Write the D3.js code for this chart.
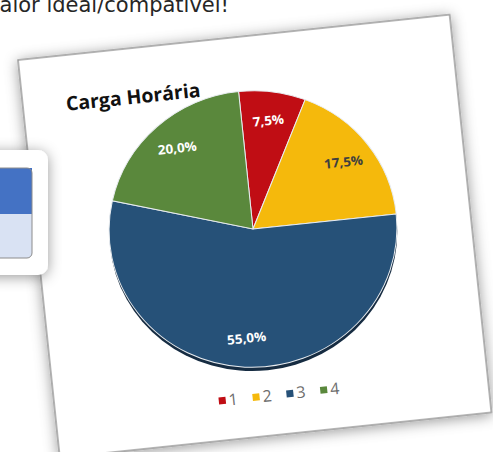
<!DOCTYPE html>
<html>
<head>
<meta charset="utf-8">
<script src="https://cdn.jsdelivr.net/npm/d3@7"></script>
<style>
  html, body { margin: 0; padding: 0; background: #fff; }
  svg { display: block; }
</style>
</head>
<body>
<svg id="chart" width="493" height="452"></svg>
<script>
// chart values
let categories = ["1", "2", "3", "4"];
let values = [7.5, 17.5, 55.0, 20.0];
let sliceColors = ["#c00d14", "#f5b90c", "#265178", "#5a883c"];
let labelColors = ["#ffffff", "#3f3f3f", "#ffffff", "#ffffff"];
let chartTitle = "Carga Horária";
let slideText = "valor ideal/compatível!";

let width = 493,
    height = 452,
    cx = 253,
    cy = 229,
    radius = 144,
    tilt = -6;

let svg = d3.select("#chart");
let defs = svg.append("defs");

let glow = defs.append("filter")
  .attr("id", "glow")
  .attr("x", "-20%").attr("y", "-20%")
  .attr("width", "140%").attr("height", "140%");
glow.append("feDropShadow")
  .attr("dx", 0).attr("dy", 2)
  .attr("stdDeviation", 7)
  .attr("flood-color", "#000")
  .attr("flood-opacity", 0.4);

// slide text, cut off at the top like the photo
svg.append("text")
  .attr("x", 229)
  .attr("y", 12)
  .attr("text-anchor", "end")
  .attr("font-family", "DejaVu Sans, sans-serif")
  .attr("font-size", 21)
  .attr("fill", "#262626")
  .text(slideText);

// the tilted card
svg.append("rect")
  .attr("transform", `translate(18,60) rotate(${tilt})`)
  .attr("width", 434)
  .attr("height", 400)
  .attr("fill", "#fff")
  .attr("stroke", "#9a9a9a")
  .attr("stroke-width", 1.5)
  .attr("filter", "url(#glow)");

let g = svg.append("g")
  .attr("transform", `translate(${cx},${cy}) rotate(${tilt})`);

g.append("text")
  .attr("x", -173)
  .attr("y", -137)
  .attr("font-family", "Open Sans, sans-serif")
  .attr("font-weight", "bold")
  .attr("font-size", 19.5)
  .attr("fill", "#111")
  .text(chartTitle);

let pie = d3.pie().sort(null).value(d => d);
let arcs = pie(values);
let arc = d3.arc().innerRadius(0).outerRadius(radius);
let labelArc = d3.arc().innerRadius(radius * 0.79).outerRadius(radius * 0.79);

let pieG = g.append("g").attr("transform", "scale(1,0.96)");

// dark rim under the pie
pieG.append("circle")
  .attr("cx", 0).attr("cy", 4)
  .attr("r", radius)
  .attr("fill", "#162c42");

pieG.selectAll("path.slice")
  .data(arcs)
  .enter()
  .append("path")
  .attr("class", "slice")
  .attr("d", arc)
  .attr("fill", (d, i) => sliceColors[i])
  .attr("stroke", "#e8ecf0")
  .attr("stroke-width", 1);

let fmt = v => d3.format(".1f")(v).replace(".", ",") + "%";

pieG.selectAll("text.lbl")
  .data(arcs)
  .enter()
  .append("text")
  .attr("class", "lbl")
  .attr("transform", d => `translate(${labelArc.centroid(d)})`)
  .attr("text-anchor", "middle")
  .attr("dy", "0.35em")
  .attr("font-family", "Open Sans, sans-serif")
  .attr("font-weight", "bold")
  .attr("font-size", 13.5)
  .attr("fill", (d, i) => labelColors[i])
  .text(d => fmt(d.data));

// legend
let legendX = d3.scalePoint()
  .domain(categories)
  .range([-40, 62]);

let legend = g.append("g")
  .attr("transform", "translate(0,168)");

let items = legend.selectAll("g.item")
  .data(categories)
  .enter()
  .append("g")
  .attr("class", "item")
  .attr("transform", d => `translate(${legendX(d)},0)`);

items.append("rect")
  .attr("x", -12).attr("y", -4)
  .attr("width", 7).attr("height", 7)
  .attr("fill", (d, i) => sliceColors[i]);

items.append("text")
  .attr("x", -2)
  .attr("y", 5)
  .attr("font-family", "Open Sans, sans-serif")
  .attr("font-size", 16)
  .attr("fill", "#6d6d6d")
  .text(d => d);

// partial panel on the left
let panel = svg.append("g");
panel.append("rect")
  .attr("x", -20).attr("y", 150)
  .attr("width", 68).attr("height", 125)
  .attr("rx", 10)
  .attr("fill", "#fff")
  .attr("filter", "url(#glow)");
panel.append("rect")
  .attr("x", -10).attr("y", 168)
  .attr("width", 42).attr("height", 90)
  .attr("rx", 5)
  .attr("fill", "#d9e2f3");
panel.append("rect")
  .attr("x", -10).attr("y", 168)
  .attr("width", 42).attr("height", 46)
  .attr("fill", "#4472c4");
panel.append("rect")
  .attr("x", -10).attr("y", 168)
  .attr("width", 42).attr("height", 90)
  .attr("rx", 5)
  .attr("fill", "none")
  .attr("stroke", "#8c8c8c")
  .attr("stroke-width", 1);
</script>
</body>
</html>
